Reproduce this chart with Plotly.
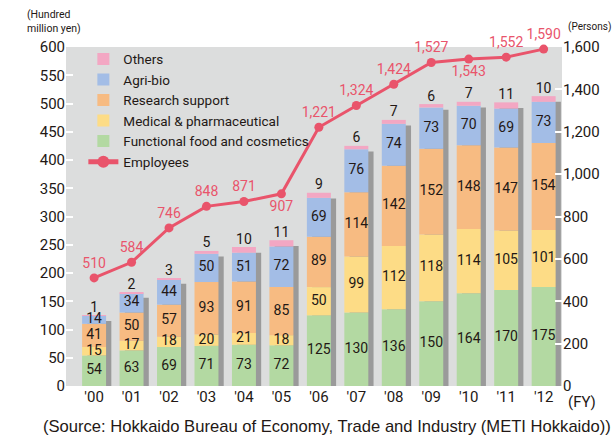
import numpy as np
import plotly.graph_objects as go

years = ["'00", "'01", "'02", "'03", "'04", "'05", "'06", "'07", "'08", "'09", "'10", "'11", "'12"]
functional = [54, 63, 69, 71, 73, 72, 125, 130, 136, 150, 164, 170, 175]
medical = [15, 17, 18, 20, 21, 18, 50, 99, 112, 118, 114, 105, 101]
research = [41, 50, 57, 93, 91, 85, 89, 114, 142, 152, 148, 147, 154]
agribio = [14, 34, 44, 50, 51, 72, 69, 76, 74, 73, 70, 69, 73]
others = [1, 2, 3, 5, 10, 11, 9, 6, 7, 6, 7, 11, 10]
employees = [510, 584, 746, 848, 871, 907, 1221, 1324, 1424, 1527, 1543, 1552, 1590]
left_ticks = list(range(0, 601, 50))
right_ticks = list(range(0, 1601, 200))

FONT = "Roboto, Arial, sans-serif"
TXT = "#231815"
BG = "#dcdddd"
LINE = "#e9546b"

series = [
    ("Functional food and cosmetics", functional, "#b3d9a2"),
    ("Medical & pharmaceutical", medical, "#fddc86"),
    ("Research support", research, "#f7bb82"),
    ("Agri-bio", agribio, "#a3bde6"),
    ("Others", others, "#f3a7c3"),
]

x = np.arange(len(years))
W = 0.64
fig = go.Figure()

totals = np.sum([np.array(s[1]) for s in series], axis=0)
# shadow bars
fig.add_trace(go.Bar(x=x, y=totals - 10, base=0, width=W, offset=-W / 2 + 0.14,
                     marker=dict(color="#9a9a9a", line_width=0), showlegend=False,
                     hoverinfo="skip"))

base = np.zeros(len(years))
ranks = {"Others": 1, "Agri-bio": 2, "Research support": 3,
         "Medical & pharmaceutical": 4, "Functional food and cosmetics": 5}
for name, vals, col in series:
    v = np.array(vals)
    fig.add_trace(go.Bar(x=x, y=v, base=base.copy(), width=W, offset=-W / 2, name=name,
                         marker=dict(color=col, line_width=0), legendrank=ranks[name]))
    if name != "Others":
        fig.add_trace(go.Scatter(x=x, y=base + v / 2, mode="text", text=[str(t) for t in vals],
                                 textfont=dict(family=FONT, size=14, color=TXT), cliponaxis=False,
                                 showlegend=False, hoverinfo="skip"))
    else:
        fig.add_trace(go.Scatter(x=x, y=base + v, mode="text", text=[str(t) for t in vals],
                                 textposition="top center", cliponaxis=False,
                                 textfont=dict(family=FONT, size=14, color=TXT),
                                 showlegend=False, hoverinfo="skip"))
    base = base + v

pos = ["top center"] * len(years)
pos[5] = "bottom center"
pos[10] = "bottom center"
fig.add_trace(go.Scatter(x=x, y=employees, yaxis="y2", mode="lines+markers+text", name="Employees",
                         line=dict(color=LINE, width=3), marker=dict(color=LINE, size=9),
                         text=[f"{e:,}" for e in employees], textposition=pos, cliponaxis=False,
                         textfont=dict(family=FONT, size=14, color=LINE), legendrank=6))

fig.update_layout(
    width=615, height=437,
    margin=dict(l=66, r=53, t=47, b=51),
    paper_bgcolor="white", plot_bgcolor=BG,
    barmode="overlay",
    font=dict(family=FONT, size=14, color=TXT),
    xaxis=dict(tickmode="array", tickvals=list(x), ticktext=years, range=[-0.75, 12.49],
               showgrid=False, zeroline=False, ticks="", tickfont=dict(size=15),
               automargin=False),
    yaxis=dict(range=[0, 600], tickvals=left_ticks, showgrid=False, zeroline=False,
               ticks="inside", ticklen=7, tickcolor="white", tickwidth=2,
               tickfont=dict(size=15), automargin=False),
    yaxis2=dict(range=[0, 1600], tickvals=right_ticks, overlaying="y", side="right",
                showgrid=False, zeroline=False, ticks="inside", ticklen=7, tickcolor="white",
                tickwidth=2, tickformat=",", tickfont=dict(size=15), automargin=False),
    legend=dict(x=0.035, y=1.01, xanchor="left", yanchor="top", bgcolor="rgba(0,0,0,0)",
                font=dict(size=13.5, color=TXT), tracegroupgap=0, itemsizing="constant"),
    showlegend=True,
)
fig.add_annotation(text="(Hundred<br>million yen)", x=-0.083, y=1, xref="paper", yref="paper",
                   yshift=10, xanchor="left", yanchor="bottom", align="left",
                   showarrow=False, font=dict(size=10.5, color=TXT))
fig.add_annotation(text="(Persons)", x=1, y=1, xref="paper", yref="paper",
                   xshift=4, yshift=12, xanchor="left", yanchor="bottom", align="left",
                   showarrow=False, font=dict(size=10, color=TXT))
fig.add_annotation(text="(FY)", x=12, y=0, xref="x", yref="paper",
                   xshift=22, yshift=-16, xanchor="left", yanchor="middle",
                   showarrow=False, font=dict(size=15, color=TXT))
fig.add_annotation(text="(Source: Hokkaido Bureau of Economy, Trade and Industry (METI Hokkaido))",
                   x=0, y=0, xref="paper", yref="paper", xshift=-25, yshift=-40,
                   xanchor="left", yanchor="middle", showarrow=False,
                   font=dict(family="Liberation Sans, Arial, sans-serif", size=16.6, color=TXT))

fig.write_html("out.html", config={"displayModeBar": False},
               post_script="document.body.style.margin='0';document.body.style.overflow='hidden';")
